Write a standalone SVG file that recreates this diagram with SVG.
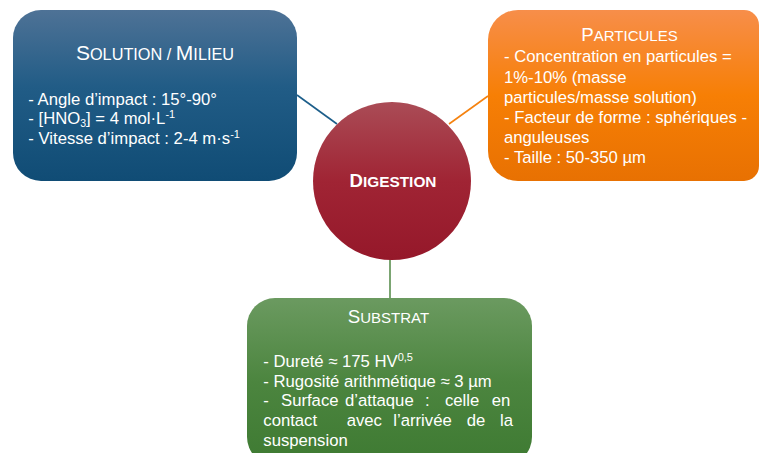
<svg xmlns="http://www.w3.org/2000/svg" width="759" height="453" viewBox="0 0 759 453">
<defs>
<linearGradient id="gBlue" x1="0" y1="0" x2="0" y2="1"><stop offset="0" stop-color="#4E7296"/><stop offset="0.45" stop-color="#215C86"/><stop offset="1" stop-color="#104C75"/></linearGradient>
<linearGradient id="gOrange" x1="0" y1="0" x2="0" y2="1"><stop offset="0" stop-color="#F78E4A"/><stop offset="0.5" stop-color="#F77F05"/><stop offset="1" stop-color="#E87102"/></linearGradient>
<linearGradient id="gGreen" x1="0" y1="0" x2="0" y2="1"><stop offset="0" stop-color="#6B9A60"/><stop offset="0.5" stop-color="#4C853F"/><stop offset="1" stop-color="#3E7A32"/></linearGradient>
<linearGradient id="gRed" x1="0" y1="0" x2="0" y2="1"><stop offset="0" stop-color="#AA4C56"/><stop offset="0.5" stop-color="#A02434"/><stop offset="1" stop-color="#95182A"/></linearGradient>
<style>
text{font-family:"Liberation Sans",Arial,sans-serif;fill:#ffffff}
.body{font-size:16.7px}
.sup{font-size:11px}
.sub{font-size:10.5px}
.conn{fill:none;stroke-width:1.6}
</style>
</defs>
<g id="connectors">
<line class="conn" x1="297" y1="95" x2="337" y2="124" stroke="#1C5E8A"/>
<line class="conn" x1="449" y1="124" x2="488" y2="96" stroke="#F5820F"/>
<line class="conn" x1="390" y1="259" x2="390" y2="298" stroke="#5A8F4F"/>
</g>
<g id="solution">
<rect x="13" y="10" width="284" height="171" rx="28" fill="url(#gBlue)"/>
<text x="155" y="60" text-anchor="middle"><tspan font-size="21">S</tspan><tspan font-size="16.3">OLUTION / </tspan><tspan font-size="21">M</tspan><tspan font-size="16.3">ILIEU</tspan></text>
<text class="body" x="28.3" y="105">- Angle d’impact : 15°-90°</text>
<text class="body" x="28.3" y="124.3">- [HNO<tspan class="sub" dy="3">3</tspan><tspan dy="-3">] = 4 mol·L</tspan><tspan class="sup" dy="-6">-1</tspan></text>
<text class="body" x="28.3" y="143.5">- Vitesse d’impact : 2-4 m·s<tspan class="sup" dy="-6">-1</tspan></text>
</g>
<g id="particules">
<path d="M518 10 H744 A15 15 0 0 1 759 25 V166 A15 15 0 0 1 744 181 H518 A30 30 0 0 1 488 151 V40 A30 30 0 0 1 518 10 Z" fill="url(#gOrange)"/>
<text x="629.5" y="41" text-anchor="middle"><tspan font-size="18.7">P</tspan><tspan font-size="15">ARTICULES</tspan></text>
<text class="body" x="504" y="62.4">- Concentration en particules =</text>
<text class="body" x="504" y="82.6">1%-10% (masse</text>
<text class="body" x="504" y="102.8">particules/masse solution)</text>
<text class="body" x="504" y="123">- Facteur de forme : sphériques -</text>
<text class="body" x="504" y="143.1">anguleuses</text>
<text class="body" x="504" y="163.3">- Taille : 50-350 µm</text>
</g>
<g id="substrat">
<rect x="247" y="298" width="285" height="167" rx="28" fill="url(#gGreen)"/>
<text x="388.5" y="323.3" text-anchor="middle"><tspan font-size="18.7">S</tspan><tspan font-size="15">UBSTRAT</tspan></text>
<text class="body" x="263.3" y="366.7">- Dureté ≈ 175 HV<tspan class="sup" dy="-6">0,5</tspan></text>
<text class="body" x="263.3" y="386.5">- Rugosité arithmétique ≈ 3 µm</text>
<text class="body" y="406.3"><tspan x="263.3">-</tspan><tspan x="281">Surface</tspan><tspan x="345">d’attaque</tspan><tspan x="425">:</tspan><tspan x="445">celle</tspan><tspan x="491.7">en</tspan></text>
<text class="body" y="426"><tspan x="263.3">contact</tspan><tspan x="346.7">avec</tspan><tspan x="393.3">l’arrivée</tspan><tspan x="466.7">de</tspan><tspan x="500">la</tspan></text>
<text class="body" x="263.3" y="446">suspension</text>
</g>
<g id="digestion">
<circle cx="392" cy="181" r="79" fill="url(#gRed)"/>
<text x="393" y="187.3" text-anchor="middle" font-weight="bold"><tspan font-size="18.6">D</tspan><tspan font-size="15.4">IGESTION</tspan></text>
</g>
</svg>
